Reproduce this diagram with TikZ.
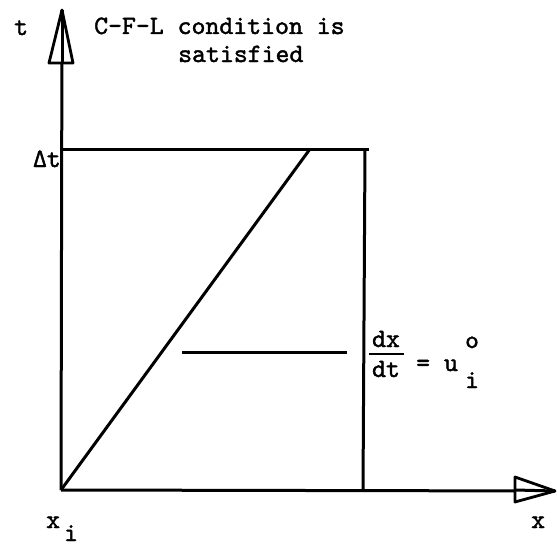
\documentclass[tikz,border=0pt]{standalone}
\usepackage{fontspec}
\setmainfont{lmmono10-regular.otf}[FakeBold=1.6]
\begin{document}
\begin{tikzpicture}[x=1pt,y=-1pt,
  lbl/.style={inner sep=0pt,font=\fontsize{26.5}{30}\selectfont},
  sub/.style={inner sep=0pt,font=\fontsize{26}{30}\selectfont},
  ln/.style={line width=3pt,line join=round},
  tri/.style={line width=2.8pt,line join=round,fill=white}]
\useasboundingbox (0,0) rectangle (557,546);
% coordinates
\coordinate (O) at (61,490);
\coordinate (ttip) at (62,10);
\coordinate (xtip) at (555,491);
\coordinate (TL) at (61,149);
\coordinate (TR) at (369,149);
\coordinate (RT) at (365,149);
\coordinate (RB) at (363,491);
\coordinate (D) at (310,149);
\coordinate (HL) at (182,352);
\coordinate (HR) at (347,352);
% axes
\draw[ln] (O) -- (ttip);
\draw[ln] (O) -- (xtip);
\draw[tri] (ttip) -- (49,63) -- (73,63) -- cycle;
\draw[ln] (62,63) -- (ttip);
\draw[tri] (xtip) -- (515,477) -- (515,502) -- cycle;
\draw[ln] (515,490) -- (xtip);
% box
\draw[ln] (TL) -- (TR);
\draw[ln] (RT) -- (RB);
\draw[ln] (O) -- (D);
\draw[ln] (HL) -- (HR);
% labels
\node[lbl,anchor=base west] (tl) at (14,35) {t};
\node[lbl,anchor=base west] (cfl1) at (94,34) {C-F-L condition is};
\node[lbl,anchor=base west] (cfl2) at (178,62) {satisfied};
\node[lbl,anchor=base east] (dt) at (61,167) {Δt};
\node[lbl,anchor=base] (num) at (386,347) {dx};
\draw[line width=1.6pt] (369,354) -- (404,354);
\node[lbl,anchor=base] (den) at (386,377) {dt};
\node[lbl,anchor=base west] (eq) at (416,371) {= u};
\node[sub,anchor=base west] (sup) at (465,348) {o};
\node[sub,anchor=base west] (sb) at (465,388) {i};
\node[lbl,anchor=base west] (xi) at (46,528) {x};
\node[sub,anchor=base west] (xis) at (64,541) {i};
\node[lbl,anchor=base west] (xl) at (531,528) {x};
\end{tikzpicture}
\end{document}
